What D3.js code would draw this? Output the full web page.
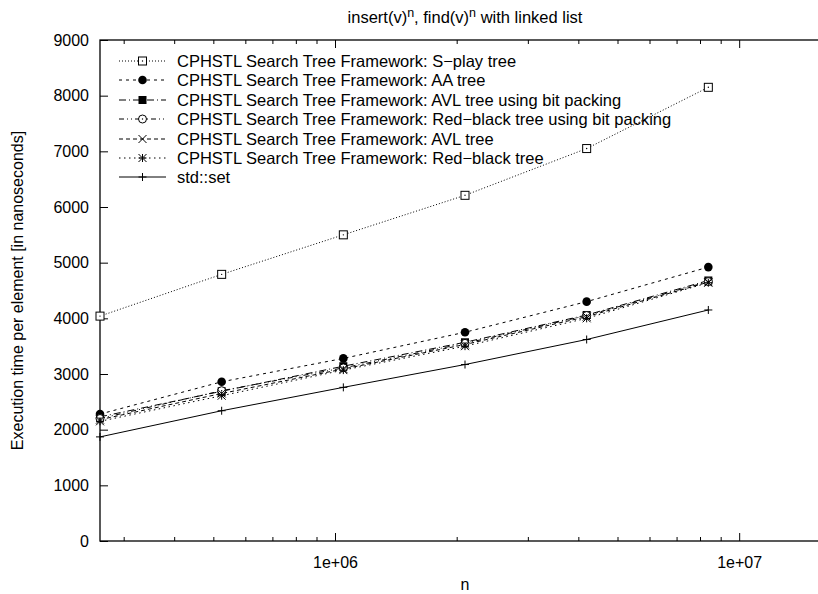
<!DOCTYPE html>
<html>
<head>
<meta charset="utf-8">
<script src="https://cdn.jsdelivr.net/npm/d3@7"></script>
<style>
  html, body { margin: 0; padding: 0; background: #fff; }
  svg { display: block; font-family: "Liberation Sans", Arial, Helvetica, sans-serif; }
</style>
</head>
<body>
<svg id="chart" width="818" height="594"></svg>
<script>
// ---- data ----
const nValues = [262144, 524288, 1048576, 2097152, 4194304, 8388608];
const seriesNames = [
  "CPHSTL Search Tree Framework: S\u2212play tree",
  "CPHSTL Search Tree Framework: AA tree",
  "CPHSTL Search Tree Framework: AVL tree using bit packing",
  "CPHSTL Search Tree Framework: Red\u2212black tree using bit packing",
  "CPHSTL Search Tree Framework: AVL tree",
  "CPHSTL Search Tree Framework: Red\u2212black tree",
  "std::set"
];
const splayTree   = [4040, 4790, 5500, 6210, 7050, 8150];
const aaTree      = [2280, 2860, 3280, 3750, 4300, 4920];
const avlBitPack  = [2230, 2690, 3140, 3570, 4060, 4680];
const rbBitPack   = [2200, 2700, 3110, 3550, 4050, 4660];
const avlTree     = [2180, 2650, 3090, 3530, 4030, 4650];
const rbTree      = [2150, 2610, 3070, 3500, 4000, 4640];
const stdSet      = [1870, 2340, 2760, 3170, 3620, 4150];
const yTicks = [0, 1000, 2000, 3000, 4000, 5000, 6000, 7000, 8000, 9000];
const xMajorTicks = [1e6, 1e7];
const xTickLabels = ["1e+06", "1e+07"];
const titleParts = ["insert(v)", "n", ", find(v)", "n", " with linked list"];

const allSeries = [splayTree, aaTree, avlBitPack, rbBitPack, avlTree, rbTree, stdSet];
const dashes = ["1,2", "3,4", "7,3,1,3", "5,3,1,3,1,3", "4,3", "1.5,3.5", null];
const markers = ["openSquare", "filledCircle", "filledSquare", "openCircle", "cross", "star", "plus"];

// ---- layout ----
const svg = d3.select("#chart");
const L = 100, R = 830, T = 40, B = 541;
const FS = 16, FSL = 16.5;
const x = d3.scaleLog().domain([262144, 16777216]).range([L, R]);
const y = d3.scaleLinear().domain([0, 9000]).range([B, T]);

const ink = "#000";

// title
const title = svg.append("text").attr("x", (L + R) / 2).attr("y", 23)
  .attr("text-anchor", "middle").attr("font-size", FSL).attr("fill", ink);
titleParts.forEach((t, i) => {
  const sup = i % 2 === 1;
  title.append("tspan").text(t)
    .attr("dy", sup ? -6 : (i > 0 ? 6 : 0))
    .attr("font-size", sup ? 12.5 : FSL);
});

// frame
svg.append("rect").attr("x", L).attr("y", T).attr("width", R - L).attr("height", B - T)
  .attr("fill", "none").attr("stroke", ink).attr("stroke-width", 1.3);

// y axis ticks (left + mirrored right)
const yAxisL = d3.axisLeft(y).tickValues(yTicks).tickSize(-8).tickPadding(11).tickFormat(d3.format("d"));
const gy = svg.append("g").attr("transform", `translate(${L},0)`).call(yAxisL);
gy.select(".domain").remove();
gy.selectAll("text").attr("font-size", FS).attr("fill", ink).attr("font-family", null);
const yAxisR = d3.axisRight(y).tickValues(yTicks).tickSize(-8).tickFormat("");
const gyr = svg.append("g").attr("transform", `translate(${R},0)`).call(yAxisR);
gyr.select(".domain").remove();

// x axis ticks
const minorTicks = [];
for (let e = 5; e <= 7; e++) for (let m = 2; m <= 9; m++) {
  const v = m * Math.pow(10, e);
  if (v > 262144 && v < 16777216) minorTicks.push(v);
}
const xAxisMinor = d3.axisBottom(x).tickValues(minorTicks).tickSize(-4).tickFormat("");
const gxm = svg.append("g").attr("transform", `translate(0,${B})`).call(xAxisMinor);
gxm.select(".domain").remove();
const xAxisMinorTop = d3.axisTop(x).tickValues(minorTicks).tickSize(-4).tickFormat("");
const gxmt = svg.append("g").attr("transform", `translate(0,${T})`).call(xAxisMinorTop);
gxmt.select(".domain").remove();

const xAxis = d3.axisBottom(x).tickValues(xMajorTicks).tickSize(-8).tickPadding(16)
  .tickFormat((d, i) => xTickLabels[i]);
const gx = svg.append("g").attr("transform", `translate(0,${B})`).call(xAxis);
gx.select(".domain").remove();
gx.selectAll("text").attr("font-size", FS).attr("fill", ink).attr("font-family", null);
const xAxisTop = d3.axisTop(x).tickValues(xMajorTicks).tickSize(-8).tickFormat("");
const gxt = svg.append("g").attr("transform", `translate(0,${T})`).call(xAxisTop);
gxt.select(".domain").remove();
svg.selectAll(".tick line").attr("stroke", ink);

// axis labels
svg.append("text").attr("x", (L + R) / 2).attr("y", 590).attr("text-anchor", "middle")
  .attr("font-size", FS).attr("fill", ink).text("n");
svg.append("text").attr("transform", `translate(23,${(T + B) / 2}) rotate(-90)`)
  .attr("text-anchor", "middle").attr("font-size", FS).attr("fill", ink)
  .text("Execution time per element [in nanoseconds]");

// markers
function drawMarker(g, type, cx, cy) {
  const s = 4;
  switch (type) {
    case "openSquare":
      g.append("rect").attr("x", cx - s).attr("y", cy - s).attr("width", 2 * s).attr("height", 2 * s)
        .attr("fill", "#fff").attr("stroke", ink).attr("stroke-width", 1);
      g.append("circle").attr("cx", cx).attr("cy", cy).attr("r", 0.7).attr("fill", ink);
      break;
    case "filledCircle":
      g.append("circle").attr("cx", cx).attr("cy", cy).attr("r", 4.3).attr("fill", ink);
      break;
    case "filledSquare":
      g.append("rect").attr("x", cx - s).attr("y", cy - s).attr("width", 2 * s).attr("height", 2 * s).attr("fill", ink);
      break;
    case "openCircle":
      g.append("circle").attr("cx", cx).attr("cy", cy).attr("r", 4)
        .attr("fill", "#fff").attr("stroke", ink).attr("stroke-width", 1);
      g.append("circle").attr("cx", cx).attr("cy", cy).attr("r", 0.7).attr("fill", ink);
      break;
    case "cross":
      g.append("path").attr("d", `M${cx - s},${cy - s}L${cx + s},${cy + s}M${cx - s},${cy + s}L${cx + s},${cy - s}`)
        .attr("stroke", ink).attr("stroke-width", 1);
      break;
    case "star":
      g.append("path").attr("d", `M${cx - s},${cy - s}L${cx + s},${cy + s}M${cx - s},${cy + s}L${cx + s},${cy - s}M${cx - s},${cy}L${cx + s},${cy}M${cx},${cy - s}L${cx},${cy + s}`)
        .attr("stroke", ink).attr("stroke-width", 1);
      break;
    case "plus":
      g.append("path").attr("d", `M${cx - s},${cy}L${cx + s},${cy}M${cx},${cy - s}L${cx},${cy + s}`)
        .attr("stroke", ink).attr("stroke-width", 1);
      break;
  }
}

// series
const line = d3.line().x(d => x(d[0])).y(d => y(d[1]));
const plot = svg.append("g");
allSeries.forEach((vals, i) => {
  const pts = nValues.map((n, j) => [n, vals[j]]);
  plot.append("path").datum(pts).attr("d", line).attr("fill", "none")
    .attr("stroke", ink).attr("stroke-width", 1)
    .attr("stroke-dasharray", dashes[i]);
});
allSeries.forEach((vals, i) => {
  const g = plot.append("g");
  nValues.forEach((n, j) => drawMarker(g, markers[i], x(n), y(vals[j])));
});

// legend
const legend = svg.append("g");
const rowY = [61, 80, 100, 119, 139, 158, 177];
seriesNames.forEach((name, i) => {
  const ly = rowY[i];
  legend.append("line").attr("x1", 119).attr("x2", 166).attr("y1", ly).attr("y2", ly)
    .attr("stroke", ink).attr("stroke-width", 1).attr("stroke-dasharray", dashes[i]);
  drawMarker(legend, markers[i], 142.5, ly);
  legend.append("text").attr("x", 177).attr("y", ly + 6).attr("font-size", FSL).attr("fill", ink).text(name);
});
</script>
</body>
</html>
